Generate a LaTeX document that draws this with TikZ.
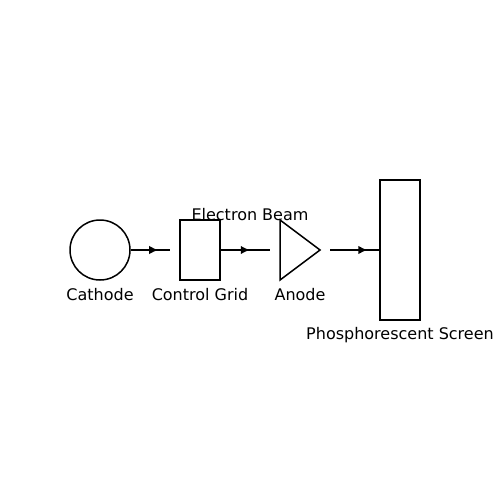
\documentclass[tikz,border=0pt]{standalone}
\usepackage{fontspec}
\setmainfont{DejaVu Sans}
\usetikzlibrary{decorations.markings,arrows.meta}
\begin{document}
\begin{tikzpicture}[x=1pt,y=-1pt,line width=1.5pt,
  part/.style={draw=black,inner sep=0pt,minimum width=40pt},
  lbl/.style={inner sep=0pt,font=\fontsize{16}{19}\selectfont},
  beam/.style={postaction={decorate},decoration={markings,mark=at position #1 with {\arrow{Latex[length=9pt,width=8.5pt]}}}}]
\useasboundingbox (0,0) rectangle (500,500);
\node[part,circle,minimum size=60pt] (cat) at (100,250) {};
\node[part,rectangle,minimum height=60pt] (grid) at (200,250) {};
\coordinate (ta) at (280,220);
\coordinate (tb) at (280,280);
\coordinate (tc) at (320,250);
\draw[line join=miter] (ta) -- (tc) -- (tb) -- cycle;
\node[part,rectangle,minimum height=140pt] (scr) at (400,250) {};
\coordinate (g2) at (270,250);
\coordinate (a1) at (330,250);
\coordinate (g1) at (170,250);
\draw[beam=0.7] (cat.east) -- (g1);
\draw[beam=0.59] (grid.east) -- (g2);
\draw[beam=0.76] (a1) -- (scr.west);
\node[lbl] (lc) at (100,295) {Cathode};
\node[lbl] (lg) at (200,295) {Control Grid};
\node[lbl] (la) at (300,295) {Anode};
\node[lbl] (lb) at (250,215) {Electron Beam};
\node[lbl] (ls) at (400,335) {Phosphorescent Screen};
\end{tikzpicture}
\end{document}
